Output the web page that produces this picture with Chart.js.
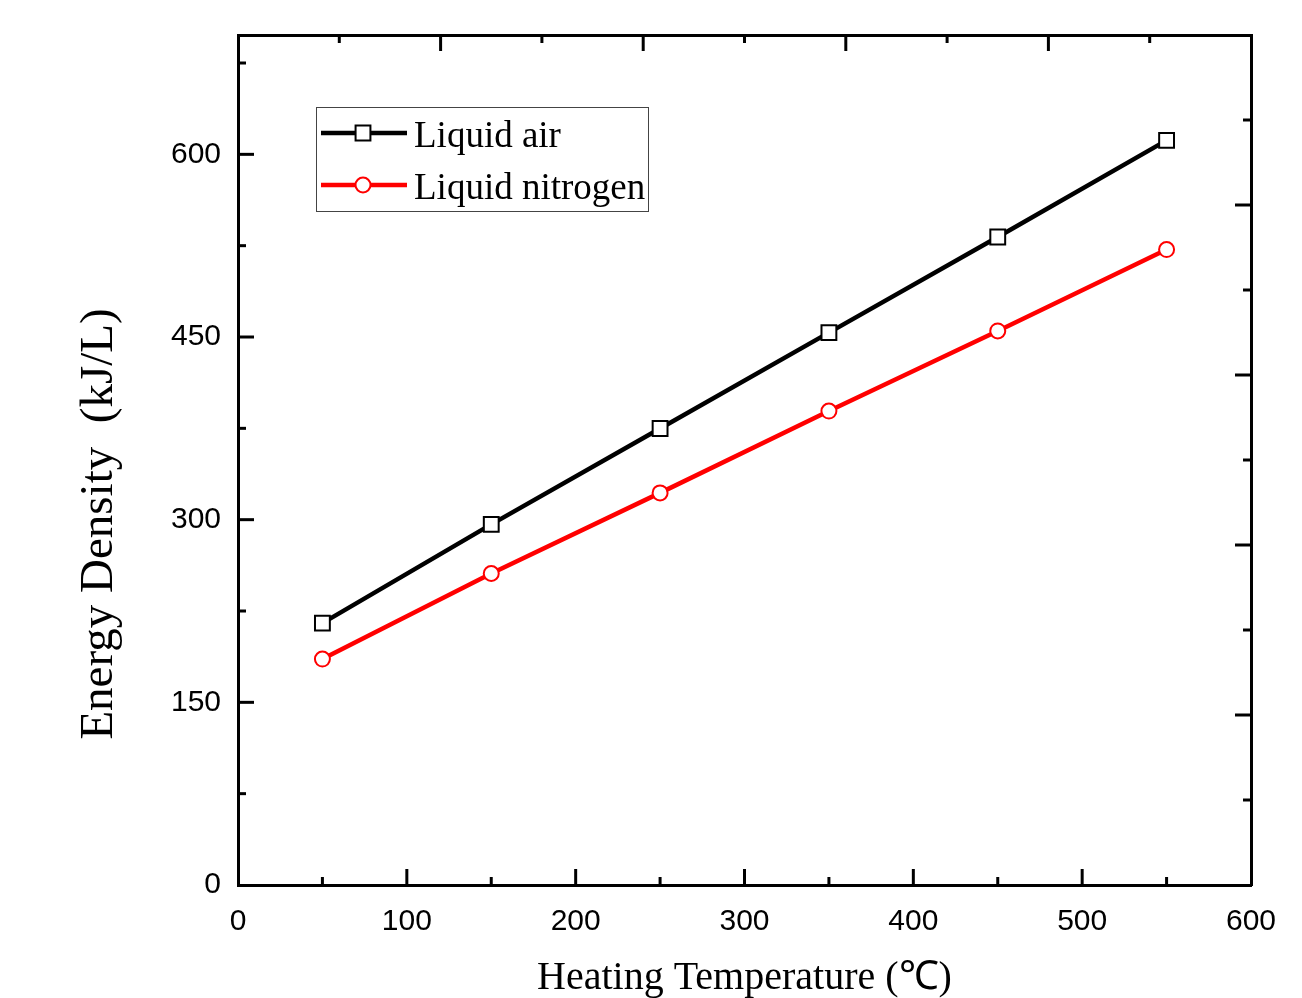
<!DOCTYPE html>
<html>
<head>
<meta charset="utf-8">
<script src="https://cdn.jsdelivr.net/npm/chart.js@4.4.1/dist/chart.umd.min.js"></script>
<style>
  html, body { margin: 0; padding: 0; background: #fff; }
  #wrap { width: 1302px; height: 998px; }
</style>
</head>
<body>
<div id="wrap"><canvas id="chart" width="1302" height="998"></canvas></div>
<script>
// values
const temperatures = [50, 150, 250, 350, 450, 550];
const liquidAir = [215.0, 296.1, 374.9, 453.6, 532.1, 611.5];
const liquidNitrogen = [185.5, 255.8, 322.0, 389.2, 455.0, 521.8];
const seriesLabels = ["Liquid air", "Liquid nitrogen"];
const xTitle = "Heating Temperature (\u2103)";
const yTitle = "Energy Density  (kJ/L)";

function points(ys) {
  return temperatures.map((t, i) => ({ x: t, y: ys[i] }));
}

// inward ticks on all four sides, long for majors
const majorSteps = { x: 100, y: 150, x2: 1, y2: 1 };
const innerTicks = {
  id: "innerTicks",
  afterDraw(chart) {
    const { ctx, chartArea: a } = chart;
    ctx.save();
    ctx.strokeStyle = "#000";
    ctx.lineWidth = 3;
    Object.values(chart.scales).forEach((scale) => {
      const step = majorSteps[scale.id];
      scale.ticks.forEach((t) => {
        if (t.value <= scale.min || t.value >= scale.max) return;
        const major = Math.abs(t.value / step - Math.round(t.value / step)) < 1e-6;
        const len = major ? 16 : 8;
        const p = scale.getPixelForValue(t.value);
        ctx.beginPath();
        if (scale.id === "x") { ctx.moveTo(p, a.bottom); ctx.lineTo(p, a.bottom - len); }
        if (scale.id === "x2") { ctx.moveTo(p, a.top); ctx.lineTo(p, a.top + len); }
        if (scale.id === "y") { ctx.moveTo(a.left, p); ctx.lineTo(a.left + len, p); }
        if (scale.id === "y2") { ctx.moveTo(a.right, p); ctx.lineTo(a.right - len, p); }
        ctx.stroke();
      });
    });
    ctx.restore();
  }
};

// boxed legend inside the plot + rotated y title
const boxLegend = {
  id: "boxLegend",
  afterDraw(chart) {
    const ctx = chart.ctx;
    ctx.save();
    ctx.strokeStyle = "#444";
    ctx.lineWidth = 1;
    ctx.strokeRect(316.5, 107.5, 332, 104);
    ctx.font = "37px 'Liberation Serif'";
    ctx.textBaseline = "alphabetic";
    ctx.textAlign = "left";
    chart.data.datasets.forEach((ds, i) => {
      const y = 133 + i * 52;
      ctx.strokeStyle = ds.borderColor;
      ctx.lineWidth = ds.borderWidth;
      ctx.beginPath();
      ctx.moveTo(321, y);
      ctx.lineTo(407, y);
      ctx.stroke();
      ctx.fillStyle = "#fff";
      ctx.lineWidth = ds.pointBorderWidth;
      Chart.helpers.drawPoint(ctx, {
        pointStyle: ds.pointStyle, radius: ds.pointRadius,
        borderWidth: ds.pointBorderWidth, rotation: 0
      }, 363, y);
      ctx.fillStyle = "#000";
      ctx.fillText(ds.label, 414, y + 14);
    });

    ctx.translate(100, 524);
    ctx.rotate(-Math.PI / 2);
    ctx.font = "47px 'Liberation Serif'";
    ctx.textAlign = "center";
    ctx.textBaseline = "middle";
    ctx.fillStyle = "#000";
    ctx.fillText(yTitle, 0, 0);
    ctx.restore();
  }
};

const tickFont = { family: "'Liberation Sans', Arial, sans-serif", size: 30 };
const frame = { display: true, width: 3, color: "#000" };

new Chart(document.getElementById("chart").getContext("2d"), {
  type: "line",
  data: {
    datasets: [
      {
        label: seriesLabels[0],
        data: points(liquidAir),
        borderColor: "#000",
        borderWidth: 4.5,
        pointStyle: "rect",
        pointRadius: 10.5,
        pointBorderWidth: 2,
        pointBackgroundColor: "#fff",
        pointBorderColor: "#000",
        xAxisID: "x",
        yAxisID: "y"
      },
      {
        label: seriesLabels[1],
        data: points(liquidNitrogen),
        borderColor: "#ff0000",
        borderWidth: 4.5,
        pointStyle: "circle",
        pointRadius: 7.5,
        pointBorderWidth: 2,
        pointBackgroundColor: "#fff",
        pointBorderColor: "#ff0000",
        xAxisID: "x",
        yAxisID: "y"
      }
    ]
  },
  options: {
    responsive: false,
    animation: false,
    events: [],
    layout: { padding: 0 },
    plugins: { legend: { display: false }, tooltip: { enabled: false } },
    scales: {
      x: {
        type: "linear",
        position: "bottom",
        min: 0,
        max: 600,
        grid: { display: false, drawTicks: false },
        border: frame,
        ticks: {
          stepSize: 50,
          autoSkip: false,
          maxRotation: 0,
          padding: 19,
          color: "#000",
          font: tickFont,
          callback: (v) => (v % 100 === 0 ? v : "")
        },
        title: {
          display: true,
          text: xTitle,
          color: "#000",
          font: { family: "'Liberation Serif', serif", size: 40 },
          padding: { top: 0, bottom: -4 }
        },
        afterFit: (s) => { s.height = 113; }
      },
      y: {
        type: "linear",
        position: "left",
        min: 0,
        max: 698,
        grid: { display: false, drawTicks: false },
        border: frame,
        ticks: {
          stepSize: 75,
          includeBounds: false,
          autoSkip: false,
          padding: 17,
          color: "#000",
          font: tickFont,
          callback: (v) => (v % 150 === 0 ? v : "")
        },
        afterFit: (s) => { s.width = 238; }
      },
      x2: {
        type: "linear",
        position: "top",
        min: 0,
        max: 5,
        grid: { display: false, drawTicks: false },
        border: frame,
        ticks: { display: false, stepSize: 0.5, autoSkip: false },
        afterFit: (s) => { s.height = 35; }
      },
      y2: {
        type: "linear",
        position: "right",
        min: 0,
        max: 5,
        grid: { display: false, drawTicks: false },
        border: frame,
        ticks: { display: false, stepSize: 0.5, autoSkip: false },
        afterFit: (s) => { s.width = 51; }
      }
    }
  },
  plugins: [innerTicks, boxLegend]
});
</script>
</body>
</html>
